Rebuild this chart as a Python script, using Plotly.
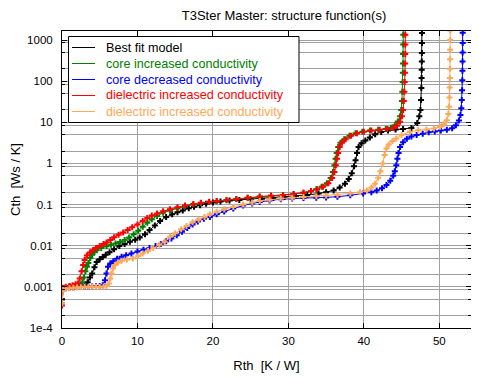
import plotly.graph_objects as go

# ---------------- data ----------------
series_names = [
    "Best fit model",
    "core increased conductivity",
    "core decreased conductivity",
    "dielectric increased conductivity",
    "dielectric increased conductivity",
]
series_colors = ["#000000", "#008000", "#0000FF", "#FF0000", "#FFA858"]

best_rth = [0.0, 0.15, 0.5, 1.0, 1.5, 2.0, 2.5, 3.0, 3.4, 3.7, 4.0, 4.3, 4.6, 5.0, 5.4, 5.8, 6.3, 6.9,
            7.6, 8.3, 9.0, 9.7, 10.3, 11.0, 11.6, 12.3, 13.0, 13.8, 14.6, 15.3, 16.0, 16.8, 17.5, 18.3,
            19.1, 20.0, 21.0, 22.2, 23.5, 25.0, 26.5, 28.0, 29.5, 31.0, 32.5, 34.0, 35.0, 36.0, 36.8,
            37.5, 38.0, 38.4, 38.7, 38.9, 39.1, 39.3, 39.7, 40.2, 40.8, 41.5, 42.3, 43.2, 44.2, 45.2,
            46.3, 47.08, 47.35, 47.5, 47.58, 47.62, 47.65, 47.67, 47.68, 47.69, 47.7, 47.7, 47.7]
best_cth = [0.0005, 0.0009, 0.00095, 0.001, 0.001, 0.00105, 0.0011, 0.0011, 0.0013, 0.0017, 0.0021,
            0.003, 0.004, 0.0047, 0.0053, 0.006, 0.0069, 0.0082, 0.0098, 0.011, 0.0125, 0.014, 0.0158,
            0.019, 0.024, 0.031, 0.04, 0.05, 0.058, 0.065, 0.072, 0.081, 0.089, 0.097, 0.105, 0.112,
            0.119, 0.125, 0.13, 0.134, 0.138, 0.145, 0.152, 0.162, 0.172, 0.185, 0.2, 0.22, 0.26, 0.32,
            0.42, 0.58, 0.85, 1.2, 1.8, 2.5, 3.1, 3.6, 4.3, 5.1, 5.8, 6.3, 6.7, 6.9, 7.3, 9.6, 14.0,
            20.0, 35.0, 68.0, 119.0, 189.0, 303.0, 482.0, 845.0, 1480.0, 2500.0]

core_inc_rth = [0.0, 0.15, 0.5, 1.0, 1.5, 2.0, 2.4, 2.7, 2.9, 3.1, 3.3, 3.5, 3.75, 4.0, 4.3, 4.6, 5.2,
                5.9, 6.5, 7.1, 7.7, 8.3, 8.9, 9.5, 10.1, 10.7, 11.3, 11.9, 12.6, 13.4, 14.3, 15.3, 16.3,
                17.4, 18.4, 19.5, 20.5, 21.8, 23.1, 24.6, 26.2, 27.7, 29.3, 30.7, 32.0, 33.0, 33.7, 34.4,
                35.1, 35.6, 35.9, 36.1, 36.25, 36.4, 36.6, 36.9, 37.4, 38.1, 38.9, 39.8, 40.8, 41.9, 42.9,
                43.6, 44.1, 44.5, 44.8, 44.95, 45.05, 45.1, 45.14, 45.17, 45.19, 45.2, 45.21, 45.22, 45.22]
core_inc_cth = [0.0004, 0.0009, 0.00095, 0.001, 0.00102, 0.00105, 0.0011, 0.0013, 0.0017, 0.0024,
                0.0031, 0.0038, 0.005, 0.006, 0.007, 0.0078, 0.0088, 0.0097, 0.0105, 0.0113, 0.0123,
                0.0138, 0.0158, 0.019, 0.023, 0.029, 0.036, 0.044, 0.053, 0.063, 0.072, 0.082, 0.091,
                0.1, 0.108, 0.115, 0.121, 0.128, 0.136, 0.146, 0.156, 0.163, 0.17, 0.18, 0.194, 0.212,
                0.235, 0.27, 0.33, 0.44, 0.62, 0.9, 1.3, 1.8, 2.5, 3.2, 3.9, 4.7, 5.4, 5.9, 6.3, 6.6,
                6.9, 7.4, 8.5, 10.5, 14.0, 20.0, 33.0, 55.0, 95.0, 160.0, 270.0, 460.0, 780.0, 1350.0,
                2300.0]

core_dec_rth = [0.0, 0.15, 0.5, 1.0, 1.5, 2.0, 2.5, 3.0, 3.5, 4.0, 4.5, 5.0, 5.4, 5.7, 5.9, 6.1, 6.4,
                6.8, 7.3, 7.9, 8.5, 9.2, 10.0, 10.8, 11.6, 12.4, 13.1, 13.8, 14.5, 15.2, 15.9, 16.6,
                17.3, 18.0, 18.8, 19.6, 20.5, 21.5, 22.7, 24.0, 25.2, 26.2, 27.5, 29.0, 30.5, 32.0,
                33.7, 35.0, 36.5, 38.2, 39.9, 41.0, 41.7, 42.4, 43.0, 43.5, 43.9, 44.1, 44.3, 44.45,
                44.6, 44.8, 45.2, 45.7, 46.3, 47.0, 47.8, 48.6, 49.4, 50.2, 51.0, 51.7, 52.2, 52.6,
                52.8, 52.92, 52.98, 53.02, 53.05, 53.07, 53.08, 53.09, 53.1, 53.1, 53.1]
core_dec_cth = [0.0005, 0.0009, 0.00093, 0.00095, 0.00097, 0.001, 0.001, 0.001, 0.001, 0.00102,
                0.00103, 0.00105, 0.0011, 0.00145, 0.0021, 0.0031, 0.0037, 0.0042, 0.0048, 0.0054,
                0.0059, 0.0065, 0.0072, 0.008, 0.0088, 0.0098, 0.011, 0.0128, 0.015, 0.018, 0.022,
                0.027, 0.033, 0.039, 0.045, 0.05, 0.058, 0.068, 0.08, 0.095, 0.107, 0.116, 0.126,
                0.135, 0.141, 0.144, 0.147, 0.149, 0.155, 0.168, 0.186, 0.2, 0.22, 0.25, 0.3, 0.38,
                0.5, 0.65, 0.9, 1.3, 1.8, 2.5, 3.3, 4.0, 4.5, 4.9, 5.3, 5.7, 6.0, 6.3, 6.6, 7.2, 8.5,
                11.0, 15.0, 22.0, 35.0, 60.0, 106.0, 180.0, 300.0, 500.0, 850.0, 1500.0, 2500.0]

diel_inc_rth = [0.0, 0.15, 0.5, 1.0, 1.4, 1.8, 2.1, 2.35, 2.6, 2.8, 3.0, 3.3, 3.7, 4.1, 4.5, 5.0, 5.5,
                5.9, 6.4, 6.9, 7.5, 8.1, 8.7, 9.3, 10.0, 10.7, 11.3, 11.9, 12.6, 13.4, 14.3, 15.3, 16.3,
                17.4, 18.4, 19.5, 20.5, 21.8, 23.1, 24.6, 26.2, 27.7, 29.3, 30.7, 32.0, 33.0, 33.8,
                34.6, 35.3, 35.8, 36.1, 36.3, 36.45, 36.6, 36.8, 37.1, 37.6, 38.3, 39.1, 40.0, 41.0,
                42.1, 43.1, 43.9, 44.4, 44.8, 45.05, 45.2, 45.3, 45.37, 45.42, 45.45, 45.47, 45.49,
                45.5, 45.5, 45.5]
diel_inc_cth = [0.00035, 0.00095, 0.001, 0.00105, 0.0011, 0.00115, 0.0012, 0.0016, 0.0024, 0.0034,
                0.0045, 0.0058, 0.0068, 0.0078, 0.0088, 0.0099, 0.011, 0.012, 0.0138, 0.016, 0.0185,
                0.021, 0.024, 0.028, 0.033, 0.04, 0.047, 0.054, 0.061, 0.069, 0.077, 0.086, 0.095,
                0.104, 0.111, 0.117, 0.122, 0.129, 0.137, 0.147, 0.157, 0.164, 0.171, 0.181, 0.195,
                0.213, 0.237, 0.27, 0.33, 0.44, 0.62, 0.9, 1.3, 1.8, 2.5, 3.2, 3.9, 4.7, 5.4, 5.9,
                6.3, 6.6, 6.9, 7.3, 8.3, 10.3, 14.0, 20.0, 33.0, 55.0, 95.0, 160.0, 270.0, 460.0,
                780.0, 1350.0, 2300.0]

diel_inc2_rth = [0.0, 0.15, 0.5, 1.0, 1.5, 2.0, 2.5, 3.0, 3.5, 4.0, 4.5, 5.0, 5.5, 5.9, 6.2, 6.4, 6.55,
                 6.75, 7.0, 7.4, 7.9, 8.6, 9.4, 10.1, 10.7, 11.4, 12.1, 12.9, 13.6, 14.3, 15.0, 15.8,
                 16.5, 17.3, 18.1, 18.9, 19.6, 20.5, 21.5, 22.7, 24.0, 25.2, 26.2, 27.5, 29.0, 30.5,
                 32.0, 33.7, 35.0, 36.5, 38.2, 39.5, 40.4, 41.0, 41.5, 41.9, 42.2, 42.5, 42.75, 43.0,
                 43.3, 43.8, 44.3, 45.0, 46.1, 47.2, 48.3, 49.3, 50.1, 50.6, 51.0, 51.2, 51.3, 51.35,
                 51.38, 51.4, 51.42, 51.43, 51.44, 51.45, 51.45, 51.45]
diel_inc2_cth = [0.0004, 0.00085, 0.0009, 0.00093, 0.00095, 0.00097, 0.00098, 0.001, 0.001, 0.001,
                 0.001, 0.001, 0.00102, 0.00105, 0.0012, 0.0016, 0.0021, 0.0028, 0.0034, 0.0039,
                 0.0043, 0.0046, 0.0049, 0.0056, 0.0065, 0.0076, 0.0088, 0.0105, 0.0125, 0.0165,
                 0.02, 0.025, 0.03, 0.037, 0.043, 0.05, 0.058, 0.067, 0.077, 0.088, 0.1, 0.112, 0.123,
                 0.132, 0.14, 0.147, 0.153, 0.159, 0.165, 0.172, 0.186, 0.2, 0.22, 0.26, 0.32, 0.45,
                 0.65, 1.0, 1.6, 2.3, 2.9, 3.5, 4.05, 4.9, 5.9, 6.4, 6.7, 7.1, 7.8, 9.0, 11.3, 16.0,
                 24.0, 40.0, 70.0, 120.0, 200.0, 340.0, 580.0, 1000.0, 1700.0, 2500.0]

y_major_vals = [1e-4, 1e-3, 1e-2, 1e-1, 1, 10, 100, 1000]
y_major_text = ["1e-4", "0.001", "0.01", "0.1", "1", "10", "100", "1000"]
y_minor_mult = [0.85, 2, 5]
x_tick_vals = [0, 10, 20, 30, 40, 50]

# ---------------- layout geometry ----------------
# the page body has an 8px margin, so the plot div starts at (8, 8) in the window
OFF = 8
W, H = 465, 365
L, T = 62 - OFF, 31 - OFF          # plot area: window x 62..471, y 31..328
R = W - (471 - OFF)
B = H - (328 - OFF)
PW, PH = W - L - R, H - T - B


def px_x(px):      # window pixel -> paper x
    return (px - OFF - L) / PW


def px_y(py):      # window pixel -> paper y
    return (H - B - (py - OFF)) / PH


xs = [best_rth, core_inc_rth, core_dec_rth, diel_inc_rth, diel_inc2_rth]
ys = [best_cth, core_inc_cth, core_dec_cth, diel_inc_cth, diel_inc2_cth]

fig = go.Figure()
for name, col, x, y in zip(series_names, series_colors, xs, ys):
    fig.add_trace(go.Scatter(
        x=x, y=y, mode="lines+markers", name=name,
        line=dict(color=col, width=1),
        marker=dict(symbol="cross", size=5, color=col, line=dict(width=0)),
        showlegend=False, hoverinfo="skip",
    ))

minor_vals = [m * 10 ** e for e in range(-4, 4) for m in y_minor_mult]
minor_vals = [v for v in minor_vals if 1e-4 < v < 1660]

font_family = "Liberation Sans, Arial, sans-serif"

# hand-drawn legend box (to match the compact row spacing of the original)
shapes = [dict(type="rect", xref="paper", yref="paper",
               x0=px_x(68.5), x1=px_x(299), y0=px_y(122.5), y1=px_y(36.5),
               line=dict(color="black", width=1), fillcolor="#FFFFFF", opacity=1,
               layer="above")]
annotations = []
row_y = [47.5, 63.5, 79.5, 95.5, 111.5]
for name, col, ry in zip(series_names, series_colors, row_y):
    shapes.append(dict(type="line", xref="paper", yref="paper",
                       x0=px_x(72), x1=px_x(95), y0=px_y(ry), y1=px_y(ry),
                       line=dict(color=col, width=1), layer="above"))
    annotations.append(dict(text=name, xref="paper", yref="paper",
                            x=px_x(104), y=px_y(ry), xanchor="left", yanchor="middle",
                            showarrow=False, font=dict(size=12.6, color=col)))

fig.update_layout(
    width=W, height=H,
    margin=dict(l=L, r=R, t=T, b=B),
    paper_bgcolor="white", plot_bgcolor="white",
    font=dict(family=font_family, size=12, color="#000000"),
    title=dict(text="T3Ster Master: structure function(s)", x=(284 - OFF) / W, xref="container",
               xanchor="center", y=1 - (15 - OFF) / H, yanchor="middle",
               font=dict(size=13, color="#000000")),
    showlegend=False,
    shapes=shapes,
    annotations=annotations,
)
fig.update_xaxes(
    range=[0, 54.2], tickvals=x_tick_vals, ticks="inside", ticklen=5, tickcolor="black",
    showline=True, linecolor="black", linewidth=1, mirror="ticks",
    showgrid=True, gridcolor="#A0A0A0", gridwidth=1, zeroline=False,
    tickfont=dict(size=11.5), ticklabelstandoff=2, automargin=False,
    title=dict(text="Rth\u00a0\u00a0[K / W]", font=dict(size=13), standoff=15),
)
fig.update_yaxes(
    type="log", range=[-4, 3.22], tickvals=y_major_vals, ticktext=y_major_text,
    ticks="inside", ticklen=5, tickcolor="black",
    showline=True, linecolor="black", linewidth=1, mirror="ticks",
    showgrid=True, gridcolor="#A0A0A0", gridwidth=1, zeroline=False,
    tickfont=dict(size=11.5), ticklabelstandoff=6, automargin=False,
    minor=dict(tickmode="array", tickvals=minor_vals, ticks="inside", ticklen=3,
               tickcolor="black", showgrid=True, gridcolor="#A0A0A0", gridwidth=1),
    title=dict(text="Cth\u00a0\u00a0[Ws / K]", font=dict(size=13), standoff=5),
)

fig.write_html("out.html", config={"displayModeBar": False})
